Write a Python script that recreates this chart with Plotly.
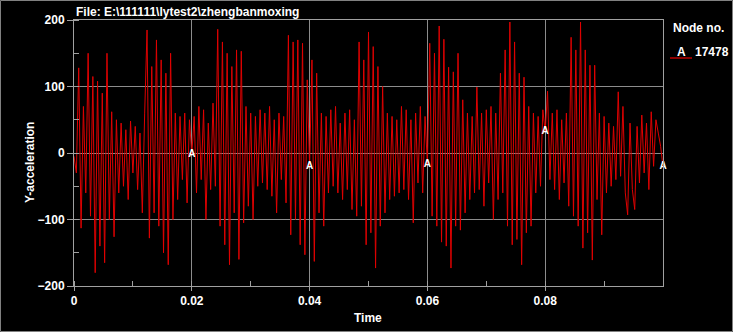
import plotly.graph_objects as go

# ---- data ----
time_step = 0.0004
accel_y = [
    -5, -30, 128, -113, 70, -60, 150, -95, 115, -180,
    108, -140, 90, -165, 150, -100, 62, -126, 50, -60,
    45, -50, 35, -70, 48, -30, 40, -55, 30, -90,
    60, 185, -128, 130, -90, 170, -110, 140, -150, 120,
    -168, 150, -100, 60, -70, 55, -40, 60, -75, 50,
    -2, 55, -60, 70, -40, 65, -100, 45, -55, 75,
    -50, 186, -110, 167, -138, 150, -168, 130, -90, 155,
    -160, 153, -105, 70, -80, 60, -100, 55, -50, 65,
    -45, 60, -55, 70, -65, 50, -90, 60, -40, 55,
    -75, 177, -123, 167, -100, 170, -138, 165, -153, 110,
    -21, 140, -163, 120, -90, 60, -110, 55, -60, 65,
    -50, 70, -60, 45, -70, 60, -55, 65, -85, 50,
    -95, 167, -80, 140, -138, 182, -120, 160, -173, 130,
    -110, 100, -90, 60, -70, 55, -65, 50, -60, 70,
    -55, 65, -70, 50, -105, 60, -45, 70, -60, 55,
    -17, 165, -95, 150, -110, 191, -134, 171, -140, 129,
    -173, 122, -110, 150, -116, 80, -90, 60, -70, 55,
    -60, 99, -55, 60, -80, 65, -45, 70, -100, 60,
    -70, 120, -60, 155, -110, 197, -138, 167, -130, 120,
    -168, 114, -120, 70, -110, 60, -60, 55, -50, 65,
    32, 93, -40, 60, -55, 65, -70, 50, -45, 60,
    -80, 174, -95, 155, -110, 197, -143, 155, -120, 132,
    -161, 132, -70, 60, -123, 55, -60, 45, -50, 40,
    -40, 92, -35, 70, -60, -93, 45, -55, -85, 40,
    -45, 57, -30, 45, -55, 62, -20, 50, 30, 10,
    -21,
]
time = [round(i * time_step, 4) for i in range(len(accel_y))]
marker_idx = [50, 100, 150, 200, 250]
x_ticks = [0, 0.02, 0.04, 0.06, 0.08]
x_ticklabels = ["0", "0.02", "0.04", "0.06", "0.08"]
y_ticks = [-200, -100, 0, 100, 200]
title_text = r"File: E:\111111\lytest2\zhengbanmoxing"
legend_title = "Node no."
legend_label = "A"
node_no = "17478"

# ---- figure ----
W, H = 733, 332
L, R, T, B = 74, 70, 20, 46
pw, ph = W - L - R, H - T - B

def px_x(p):
    return (p - L) / pw

def px_y(p):
    return (H - B - p) / ph

bold = dict(family="Liberation Sans, Arial, sans-serif", color="white", size=12, weight="bold")
grey = "#8c8c8c"

fig = go.Figure()
fig.add_trace(go.Scatter(x=time, y=accel_y, mode="lines",
                         line=dict(color="#e00000", width=1), showlegend=False,
                         hoverinfo="skip"))
fig.add_trace(go.Scatter(x=[time[i] for i in marker_idx], y=[accel_y[i] for i in marker_idx],
                         mode="text", text=["A"] * len(marker_idx),
                         textposition="middle center",
                         textfont=dict(family="Liberation Sans, Arial, sans-serif",
                                       color="white", size=10, weight="bold"),
                         cliponaxis=False, showlegend=False, hoverinfo="skip"))

axis_common = dict(showline=True, linecolor="#a0a0a0", linewidth=1, mirror=True,
                   showgrid=True, gridcolor=grey, gridwidth=1, zeroline=False,
                   tickfont=bold, tickcolor="#a0a0a0", ticks="outside")

fig.update_xaxes(range=[0, 0.1], tickvals=x_ticks, ticktext=x_ticklabels, ticklen=4,
                 minor=dict(dtick=0.01, tick0=0.01, ticks="inside", ticklen=5,
                            tickcolor="#a0a0a0", showgrid=False),
                 **axis_common)
fig.update_yaxes(range=[-200, 200], tickvals=y_ticks, ticklen=6,
                 minor=dict(dtick=50, tick0=-150, ticks="inside", ticklen=5,
                            tickcolor="#a0a0a0", showgrid=False),
                 **axis_common)

def ann(text, x, y, xanchor="center", yanchor="middle", angle=0):
    return dict(text=text, x=px_x(x), y=px_y(y), xref="paper", yref="paper",
                xanchor=xanchor, yanchor=yanchor, textangle=angle,
                showarrow=False, font=bold)

annotations = [
    ann(title_text, 74, 12, xanchor="left"),
    ann("Y-acceleration", 30, 163, angle=-90),
    ann("Time", 368, 318),
    ann(legend_title, 671, 28, xanchor="left"),
    ann(legend_label, 681, 52),
    ann(node_no, 693, 52, xanchor="left"),
]

shapes = [
    dict(type="line", xref="paper", yref="paper", x0=px_x(670), x1=px_x(692),
         y0=px_y(58), y1=px_y(58), line=dict(color="#8b0000", width=2)),
    dict(type="rect", xref="paper", yref="paper", x0=px_x(0.5), x1=px_x(732.5),
         y0=px_y(331.5), y1=px_y(0.5), line=dict(color="#808080", width=1)),
]

fig.update_layout(width=W, height=H, margin=dict(l=L, r=R, t=T, b=B),
                  paper_bgcolor="black", plot_bgcolor="black",
                  annotations=annotations, shapes=shapes, showlegend=False)

fig.write_html("out.html", config={"displayModeBar": False},
               post_script="document.body.style.margin='0';document.body.style.background='black';")
